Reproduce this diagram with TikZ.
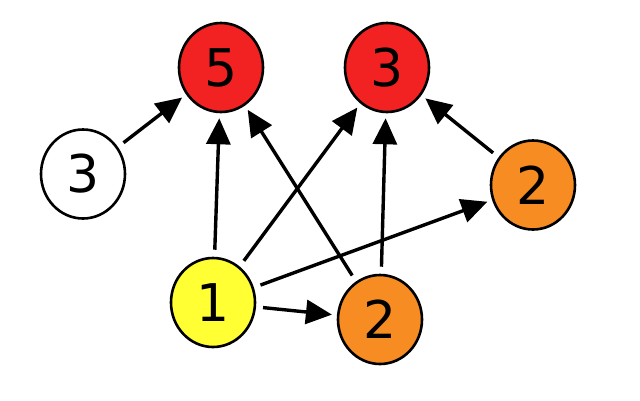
\documentclass[tikz,border=0pt]{standalone}
\usepackage{fontspec}
\setmainfont{DejaVu Sans}
\usetikzlibrary{arrows.meta,shapes.geometric}
\definecolor{nred}{HTML}{F22222}
\definecolor{norange}{HTML}{F78C22}
\definecolor{nyellow}{HTML}{FFFF33}
\tikzset{
  vtx/.style={ellipse, draw=black, line width=2.6pt, minimum width=84pt, minimum height=89pt, inner sep=0pt, font=\fontsize{52}{52}\selectfont},
  edge/.style={line width=3.4pt, -{Triangle[length=26pt,width=24pt]}, shorten <=7pt, shorten >=5pt}
}
\begin{document}
\begin{tikzpicture}[x=1pt,y=-1pt]
\useasboundingbox (0,0) rectangle (640,400);
\node[vtx, fill=nred] (r5) at (221,67.5) {5};
\node[vtx, fill=nred] (r3) at (387,67.5) {3};
\node[vtx, fill=white] (w3) at (83,174) {3};
\node[vtx, fill=norange] (o2r) at (533,185) {2};
\node[vtx, fill=nyellow] (y1) at (213,302.5) {1};
\node[vtx, fill=norange] (o2b) at (380,319.5) {2};
\draw[edge] (w3) -- (r5);
\draw[edge] (y1) -- (r5);
\draw[edge] (o2b) -- (r5);
\draw[edge] (y1) -- (r3);
\draw[edge] (o2b) -- (r3);
\draw[edge] (o2r) -- (r3);
\draw[edge] (y1) -- (o2r);
\draw[edge] (y1) -- (o2b);
\end{tikzpicture}
\end{document}
